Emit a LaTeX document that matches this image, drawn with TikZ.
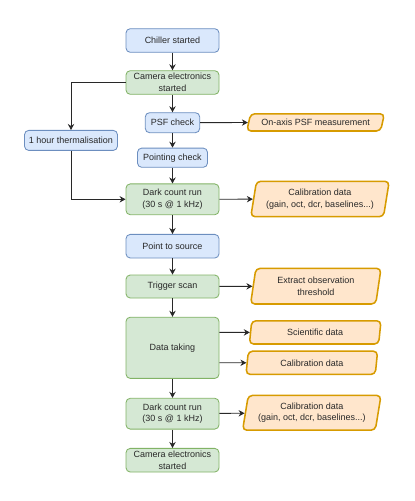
\documentclass[tikz,border=0pt]{standalone}
\usepackage{fontspec}
\setmainfont{Liberation Sans}
\usepackage{tikz}
\usetikzlibrary{shapes.geometric, arrows.meta, positioning}
\definecolor{fillblue}{HTML}{DAE8FC}
\definecolor{lineblue}{HTML}{6C8EBF}
\definecolor{fillgreen}{HTML}{D5E8D4}
\definecolor{linegreen}{HTML}{82B366}
\definecolor{fillorange}{HTML}{FFE6CC}
\definecolor{lineorange}{HTML}{D79B00}
\definecolor{dkgray}{RGB}{40,40,40}
\tikzset{
    bluestep/.style={rectangle, rounded corners=3pt, draw=lineblue, fill=fillblue,
                     line width=0.6pt, minimum width=2.325cm, minimum height=0.59cm,
                     inner sep=1pt, align=center, font=\fontsize{6.4}{8.3}\selectfont, text=dkgray},
    greenstep/.style={bluestep, draw=linegreen, fill=fillgreen},
    dataout/.style={trapezium, trapezium left angle=76, trapezium right angle=104,
                    trapezium stretches body, rounded corners=3pt, draw=lineorange,
                    fill=fillorange, line width=1.1pt, inner sep=1pt, align=center,
                    font=\fontsize{6.4}{8.3}\selectfont, text=dkgray},
    arrow/.style={-{Stealth[length=1.5mm, width=1.6mm]}, line width=0.6pt, draw=dkgray},
}

\begin{document}
\begin{tikzpicture}
    \useasboundingbox (0,0) rectangle (10.375,-12.525);

    % Main sequence
    \node[bluestep] (chiller) at (4.3125,-1.0125) {Chiller started};
    \node[greenstep] (camon) at (4.3125,-2.0625) {Camera electronics\\started};
    \node[bluestep, minimum width=1.36cm, minimum height=0.5cm] (psf) at (4.3125,-3.0675) {PSF check};
    \node[bluestep, minimum width=1.75cm, minimum height=0.48cm] (pointing) at (4.3125,-3.9425) {Pointing check};
    \node[greenstep, minimum height=0.77cm] (dark) at (4.3125,-4.9825) {Dark count run\\(30 s @ 1 kHz)};
    \node[bluestep] (source) at (4.3125,-6.155) {Point to source};
    \node[greenstep, minimum height=0.575cm] (trigger) at (4.3125,-7.1625) {Trigger scan};
    \node[greenstep, minimum height=1.53cm] (taking) at (4.3125,-8.695) {Data taking};
    \node[greenstep, minimum height=0.77cm] (darkend) at (4.3125,-10.3425) {Dark count run\\(30 s @ 1 kHz)};
    \node[greenstep] (camend) at (4.3125,-11.505) {Camera electronics\\started};

    % Side branch
    \node[bluestep, minimum height=0.5cm] (therm) at (1.775,-3.51) {1 hour thermalisation};

    % Data products
    \node[dataout, trapezium left angle=68, trapezium right angle=112,
          minimum width=3.44cm, minimum height=0.43cm] (psfdata) at (7.89,-3.06) {On-axis PSF measurement};
    \node[dataout, minimum width=3.46cm, minimum height=0.885cm] (calibstart) at (8.0,-4.975) {Calibration data\\(gain, oct, dcr, baselines...)};
    \node[dataout, minimum width=3.26cm, minimum height=0.89cm] (threshold) at (7.895,-7.155) {Extract observation\\threshold};
    \node[dataout, minimum width=3.29cm, minimum height=0.58cm] (science) at (7.88,-8.31) {Scientific data};
    \node[dataout, minimum width=3.29cm, minimum height=0.58cm] (calibrun) at (7.795,-9.07) {Calibration data};
    \node[dataout, minimum width=3.46cm, minimum height=0.87cm] (calibend) at (7.795,-10.32) {Calibration data\\(gain, oct, dcr, baselines...)};

    % Arrows
    \draw[arrow] (chiller) -- (camon);
    \draw[arrow] (camon) -- (psf);
    \draw[arrow] (psf) -- (pointing);
    \draw[arrow] (pointing) -- (dark);
    \draw[arrow] (dark) -- (source);
    \draw[arrow] (source) -- (trigger);
    \draw[arrow] (trigger) -- (taking);
    \draw[arrow] (taking) -- (darkend);
    \draw[arrow] (darkend) -- (camend);
    \draw[arrow] (camon.west) -| (therm.north);
    \draw[arrow] (therm.south) |- (dark.west);
    \draw[arrow] (psf) -- (psfdata);
    \draw[arrow] (dark) -- (calibstart);
    \draw[arrow] (trigger) -- (threshold);
    \draw[arrow] (taking.east |- science) -- (science);
    \draw[arrow] (taking.east |- calibrun) -- (calibrun);
    \draw[arrow] (darkend) -- (calibend);
\end{tikzpicture}
\end{document}
